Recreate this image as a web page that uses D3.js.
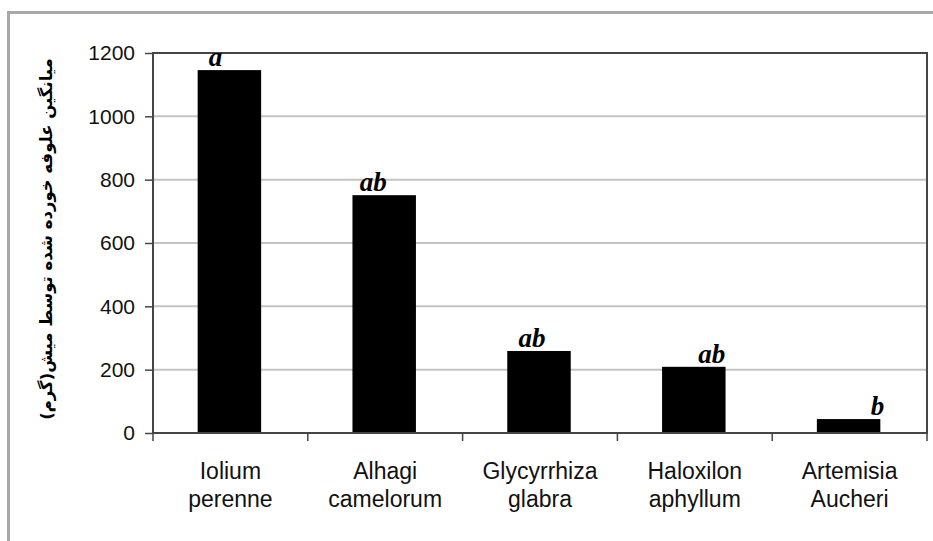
<!DOCTYPE html>
<html><head><meta charset="utf-8">
<script src="https://cdn.jsdelivr.net/npm/d3@7"></script>
<style>body{margin:0;background:#fff}svg{display:block}</style>
</head><body>
<svg id="c" width="933" height="541"></svg>
<script>
const categories = ["Iolium perenne","Alhagi camelorum","Glycyrrhiza glabra","Haloxilon aphyllum","Artemisia Aucheri"];
const values = [1146, 751, 259, 209, 44];
const groupLetters = ["a","ab","ab","ab","b"];
const yTicks = [0,200,400,600,800,1000,1200];
const yTitle = "ميانگين علوفه خورده شده توسط ميش(گرم)";

// layout (not data)
const letterDx = [-15,-12,-8,17,28];
const W=933,H=541, L=153, R=927, T=53, B=433;
const svg = d3.select("#c");

// outer frame
svg.append("path").attr("d",`M8.5,${H} V12.5 H${W}`).attr("fill","none").attr("stroke","#a8a8a8").attr("stroke-width",3);

const x = d3.scaleBand().domain(categories).range([L,R]).padding(0);
const y = d3.scaleLinear().domain([0,1200]).range([B,T]);

// grid
svg.append("g").selectAll("line").data(yTicks.filter(d=>d>0 && d<1200)).join("line")
  .attr("x1",L).attr("x2",R).attr("y1",d=>y(d)).attr("y2",d=>y(d))
  .attr("stroke","#c4c4c4").attr("stroke-width",2);

// bars
const bw = x.bandwidth()*0.41;
svg.append("g").selectAll("rect").data(values).join("rect")
  .attr("x",(d,i)=>x(categories[i])+x.bandwidth()/2-bw/2-1)
  .attr("width",bw)
  .attr("y",d=>y(d)).attr("height",d=>B-y(d))
  .attr("fill","#000");

// plot border
svg.append("rect").attr("x",L).attr("y",T).attr("width",R-L).attr("height",B-T)
  .attr("fill","none").attr("stroke","#454545").attr("stroke-width",2);

// y axis
const ya = svg.append("g").attr("transform",`translate(${L},0)`)
  .call(d3.axisLeft(y).tickValues(yTicks).tickSize(8).tickPadding(10).tickFormat(d3.format("d")));
ya.select(".domain").remove();
ya.selectAll("line").attr("stroke","#454545").attr("stroke-width",1.5);
ya.selectAll("text").attr("font-family","Liberation Sans, Arial, sans-serif").attr("font-size",21).attr("fill","#111");

// x axis ticks at boundaries
const bounds = categories.map(c=>x(c)).concat([R]);
svg.append("g").selectAll("line").data(bounds).join("line")
  .attr("x1",d=>d).attr("x2",d=>d).attr("y1",B).attr("y2",B+8)
  .attr("stroke","#454545").attr("stroke-width",1.5);

// x labels
const xl = svg.append("g").selectAll("text").data(categories).join("text")
  .attr("x",d=>x(d)+x.bandwidth()/2).attr("y",479)
  .attr("text-anchor","middle").attr("font-family","Liberation Sans, Arial, sans-serif")
  .attr("font-size",23).attr("fill","#111");
xl.each(function(d){
  const parts = d.split(" ");
  const t = d3.select(this);
  parts.forEach((p,i)=>t.append("tspan").attr("x",x(d)+x.bandwidth()/2).attr("dy",i===0?0:28).text(p));
});

// group letters
svg.append("g").selectAll("text").data(groupLetters).join("text")
  .attr("x",(d,i)=>x(categories[i])+x.bandwidth()/2+letterDx[i])
  .attr("y",(d,i)=>y(values[i])-4)
  .attr("text-anchor","middle")
  .attr("font-family","Liberation Serif, Times New Roman, serif")
  .attr("font-weight","bold").attr("font-style","italic")
  .attr("font-size",27).attr("fill","#000").text(d=>d);

// y title
svg.append("text").attr("transform",`translate(52,${(T+B)/2-4}) rotate(-90)`)
  .attr("text-anchor","middle").attr("direction","rtl")
  .attr("font-family","DejaVu Sans, sans-serif").attr("font-weight","bold")
  .attr("font-size",16.5).attr("fill","#000").text(yTitle);
</script>
</body></html>
